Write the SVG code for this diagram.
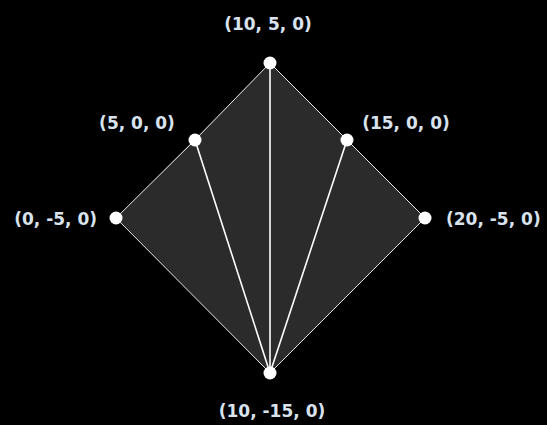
<svg xmlns="http://www.w3.org/2000/svg" width="547" height="425" viewBox="0 0 547 425">
<style>
.lbl{font-family:"DejaVu Sans","Liberation Sans",sans-serif;font-size:17px;font-weight:bold;fill:#d8e3ee}
.edge{stroke:#e6e6e6;stroke-width:1;fill:none}
.inner{stroke:#ffffff;stroke-width:1.6;fill:none}
.dot{fill:#ffffff}
</style>
<rect width="547" height="425" fill="#000000"/>
<g id="faces">
<polygon points="270,63 116,218 270,373 425,218" fill="#2b2b2b"/>
</g>
<g id="connectors">
<polyline class="edge" points="270,63 195,140 116,218 270,373 425,218 347,140 270,63"/>
<line class="inner" x1="270" y1="63" x2="270" y2="373"/>
<line class="inner" x1="195" y1="140" x2="270" y2="373"/>
<line class="inner" x1="347" y1="140" x2="270" y2="373"/>
</g>
<g id="n_top"><circle class="dot" cx="270" cy="63" r="6.5"/><text class="lbl" x="268" y="30" text-anchor="middle">(10, 5, 0)</text></g>
<g id="n_5"><circle class="dot" cx="195" cy="140" r="6.5"/><text class="lbl" x="137" y="129" text-anchor="middle">(5, 0, 0)</text></g>
<g id="n_15"><circle class="dot" cx="347" cy="140" r="6.5"/><text class="lbl" x="406" y="129" text-anchor="middle">(15, 0, 0)</text></g>
<g id="n_left"><circle class="dot" cx="116" cy="218" r="6.5"/><text class="lbl" x="97" y="225" text-anchor="end">(0, -5, 0)</text></g>
<g id="n_right"><circle class="dot" cx="425" cy="218" r="6.5"/><text class="lbl" x="446" y="225">(20, -5, 0)</text></g>
<g id="n_bottom"><circle class="dot" cx="270" cy="373" r="6.5"/><text class="lbl" x="272" y="417" text-anchor="middle">(10, -15, 0)</text></g>
</svg>
